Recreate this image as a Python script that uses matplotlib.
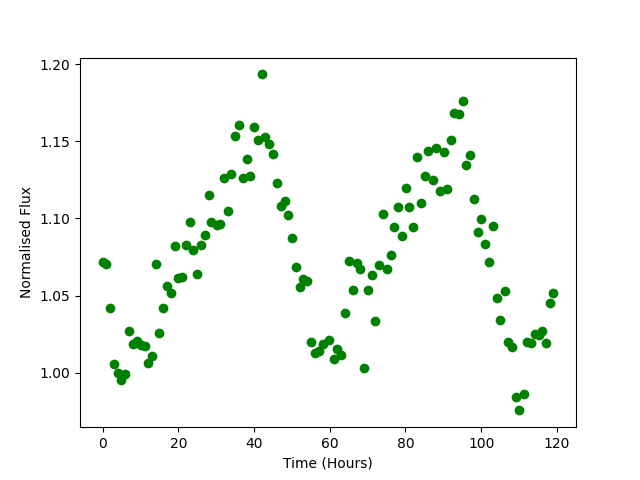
import numpy as np
import matplotlib
matplotlib.use("Agg")
import matplotlib.pyplot as plt

# time stamps (hours) and normalised flux
time_hr = [0.0, 1.0, 1.9, 3.0, 4.0, 4.9, 6.0, 7.0, 8.0, 9.1,
           10.1, 11.1, 12.0, 13.0, 14.0, 14.9, 15.9, 17.0, 18.1, 19.1,
           19.8, 21.0, 22.0, 23.1, 23.9, 24.9, 26.1, 27.0, 28.0, 28.6,
           30.1, 31.1, 32.0, 33.1, 34.0, 35.0, 36.0, 37.1, 38.1, 39.0,
           40.0, 41.1, 42.1, 43.0, 44.0, 45.0, 46.1, 47.1, 48.1, 49.0,
           50.0, 51.1, 52.1, 52.9, 54.0, 55.1, 56.2, 57.3, 58.2, 59.8,
           61.1, 61.9, 63.1, 64.0, 65.1, 66.2, 67.1, 68.0, 69.1, 70.1,
           71.2, 72.0, 73.0, 74.1, 75.2, 76.2, 77.1, 78.1, 79.1, 80.2,
           81.0, 82.1, 83.0, 84.1, 85.2, 86.0, 87.2, 88.1, 89.2, 90.2,
           91.0, 92.0, 92.9, 94.2, 95.2, 96.0, 97.1, 98.1, 99.2, 100.0,
           101.1, 102.1, 103.2, 104.2, 105.0, 106.2, 107.1, 108.2, 109.2, 110.0,
           111.2, 112.2, 113.2, 114.3, 115.3, 116.2, 117.2, 118.2, 119.1]

flux = [1.0716, 1.0703, 1.0418, 1.0057, 0.9997, 0.9951, 0.9990, 1.0271, 1.0186, 1.0207,
        1.0179, 1.0176, 1.0061, 1.0109, 1.0705, 1.0261, 1.0418, 1.0560, 1.0515, 1.0821,
        1.0612, 1.0618, 1.0828, 1.0975, 1.0793, 1.0638, 1.0826, 1.0890, 1.1150, 1.0977,
        1.0955, 1.0964, 1.1260, 1.1046, 1.1286, 1.1532, 1.1603, 1.1260, 1.1383, 1.1273,
        1.1590, 1.1508, 1.1933, 1.1529, 1.1484, 1.1415, 1.1227, 1.1080, 1.1115, 1.1020,
        1.0871, 1.0683, 1.0554, 1.0607, 1.0596, 1.0198, 1.0130, 1.0141, 1.0187, 1.0212,
        1.0087, 1.0155, 1.0115, 1.0385, 1.0724, 1.0536, 1.0713, 1.0670, 1.0029, 1.0536,
        1.0632, 1.0335, 1.0696, 1.1027, 1.0670, 1.0761, 1.0942, 1.1072, 1.0886, 1.1197,
        1.1072, 1.0942, 1.1396, 1.1098, 1.1275, 1.1437, 1.1247, 1.1454, 1.1176, 1.1428,
        1.1188, 1.1506, 1.1683, 1.1674, 1.1758, 1.1344, 1.1409, 1.1125, 1.0910, 1.0994,
        1.0832, 1.0716, 1.0951, 1.0483, 1.0340, 1.0530, 1.0198, 1.0169, 0.9845, 0.9757,
        0.9863, 1.0198, 1.0191, 1.0251, 1.0243, 1.0271, 1.0191, 1.0450, 1.0515]

fig, ax = plt.subplots(figsize=(6.4, 4.8), dpi=100)
ax.plot(time_hr, flux, "go")
ax.set_xlabel("Time (Hours)")
ax.set_ylabel("Normalised Flux")

fig.savefig("out.png")
